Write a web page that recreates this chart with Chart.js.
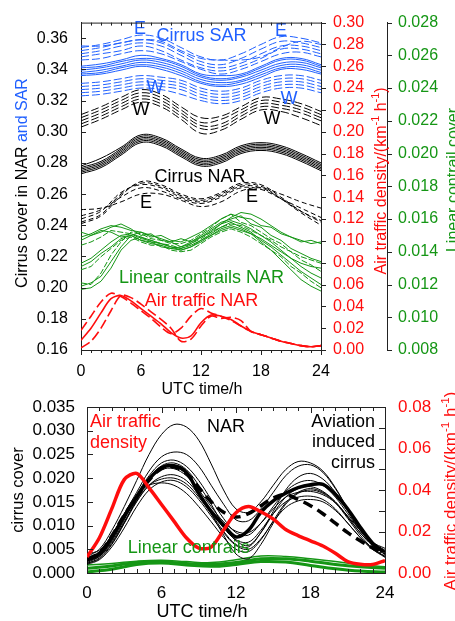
<!DOCTYPE html>
<html>
<head>
<meta charset="utf-8">
<script src="https://cdn.jsdelivr.net/npm/chart.js@4.4.1/dist/chart.umd.min.js"></script>
<style>
  html, body { margin: 0; padding: 0; background: #fff; }
  #wrap { position: relative; width: 455px; height: 621px; overflow: hidden; }
  canvas { position: absolute; left: 0; }
  #topChart { top: 0; }
  #bottomChart { top: 380px; }
</style>
</head>
<body>
<div id="wrap">
  <canvas id="topChart" width="455" height="400"></canvas>
  <canvas id="bottomChart" width="455" height="241"></canvas>
</div>
<script>
Chart.defaults.font.family = "'Liberation Sans', Arial, Helvetica, sans-serif";
Chart.defaults.color = "#000";
const FONT = "'Liberation Sans', Arial, Helvetica, sans-serif";

const BLUE = "#2060ff";
const GREEN = "#159615";
const RED = "#ff0d0d";

// HOURS (UTC)
const HOURS = [0, 1, 2, 3, 4, 5, 6, 7, 8, 9, 10, 11, 12, 13, 14, 15, 16, 17, 18, 19, 20, 21, 22, 23, 24];
const HOURS_2H = [0, 2, 4, 6, 8, 10, 12, 14, 16, 18, 20, 22, 24];

// TICK LABELS
const HOUR_TICKS = [0, 6, 12, 18, 24];
const CIRRUS_TICKS = [0.16, 0.18, 0.2, 0.22, 0.24, 0.26, 0.28, 0.3, 0.32, 0.34, 0.36];
const TRAFFIC_TICKS = [0, 0.02, 0.04, 0.06, 0.08, 0.1, 0.12, 0.14, 0.16, 0.18, 0.2, 0.22, 0.24, 0.26, 0.28, 0.3];
const CONTRAIL_TICKS = [0.008, 0.01, 0.012, 0.014, 0.016, 0.018, 0.02, 0.022, 0.024, 0.026, 0.028];
const AIC_TICKS = [0, 0.005, 0.01, 0.015, 0.02, 0.025, 0.03, 0.035];
const AIC_TRAFFIC_TICKS = [0, 0.02, 0.04, 0.06, 0.08];
const AIC_TRAFFIC_MINOR = [0, 0.01, 0.02, 0.03, 0.04, 0.05, 0.06, 0.07, 0.08];

// ---------- TOP PANEL (every 2 h) ----------
// cirrus SAR, east (dashed)
const SAR_EAST = [
  [0.354, 0.356, 0.359, 0.362, 0.360, 0.354, 0.348, 0.346, 0.350, 0.356, 0.361, 0.360, 0.357],
  [0.352, 0.354, 0.357, 0.359, 0.357, 0.351, 0.345, 0.343, 0.347, 0.353, 0.358, 0.357, 0.354],
  [0.350, 0.352, 0.355, 0.357, 0.355, 0.349, 0.343, 0.341, 0.344, 0.350, 0.355, 0.355, 0.352],
  [0.348, 0.350, 0.352, 0.355, 0.352, 0.346, 0.341, 0.339, 0.342, 0.347, 0.353, 0.353, 0.350],
  [0.346, 0.347, 0.350, 0.352, 0.350, 0.345, 0.340, 0.337, 0.340, 0.345, 0.350, 0.351, 0.348],
  [0.355, 0.355, 0.357, 0.359, 0.358, 0.352, 0.347, 0.346, 0.346, 0.348, 0.354, 0.358, 0.356],
];
// cirrus SAR (solid)
const SAR_MEAN = [
  [0.342, 0.3435, 0.346, 0.349, 0.347, 0.343, 0.337, 0.336, 0.337, 0.342, 0.347, 0.347, 0.343],
  [0.341, 0.342, 0.345, 0.347, 0.346, 0.342, 0.336, 0.334, 0.336, 0.341, 0.346, 0.346, 0.342],
  [0.3395, 0.341, 0.3435, 0.346, 0.3445, 0.3405, 0.335, 0.333, 0.335, 0.3395, 0.344, 0.3445, 0.341],
  [0.338, 0.3395, 0.342, 0.3445, 0.343, 0.339, 0.3335, 0.3315, 0.333, 0.338, 0.3425, 0.343, 0.3395],
  [0.337, 0.338, 0.341, 0.343, 0.3415, 0.3375, 0.332, 0.330, 0.332, 0.3365, 0.341, 0.3415, 0.338],
  [0.336, 0.337, 0.3395, 0.342, 0.340, 0.336, 0.331, 0.329, 0.3305, 0.335, 0.340, 0.340, 0.337],
];
// cirrus SAR, west (dashed)
const SAR_WEST = [
  [0.331, 0.332, 0.334, 0.336, 0.335, 0.333, 0.328, 0.326, 0.328, 0.333, 0.336, 0.336, 0.333],
  [0.329, 0.330, 0.332, 0.334, 0.333, 0.331, 0.326, 0.324, 0.326, 0.331, 0.334, 0.334, 0.331],
  [0.327, 0.328, 0.330, 0.332, 0.331, 0.329, 0.324, 0.322, 0.324, 0.329, 0.332, 0.332, 0.329],
  [0.325, 0.326, 0.328, 0.330, 0.329, 0.327, 0.322, 0.320, 0.322, 0.327, 0.330, 0.330, 0.327],
  [0.323, 0.324, 0.326, 0.328, 0.327, 0.324, 0.320, 0.318, 0.320, 0.325, 0.328, 0.328, 0.325],
];
// cirrus NAR, west (dashed)
const NAR_WEST = [
  [0.311, 0.316, 0.322, 0.327, 0.324, 0.316, 0.309, 0.310, 0.316, 0.322, 0.321, 0.318, 0.313],
  [0.309, 0.314, 0.320, 0.325, 0.322, 0.314, 0.306, 0.308, 0.314, 0.320, 0.319, 0.316, 0.311],
  [0.307, 0.312, 0.318, 0.323, 0.320, 0.312, 0.304, 0.305, 0.312, 0.318, 0.317, 0.314, 0.309],
  [0.305, 0.310, 0.316, 0.321, 0.318, 0.310, 0.302, 0.303, 0.310, 0.316, 0.315, 0.312, 0.307],
  [0.303, 0.308, 0.314, 0.319, 0.316, 0.308, 0.299, 0.301, 0.308, 0.314, 0.313, 0.309, 0.304],
];
// cirrus NAR (solid)
const NAR_MEAN = [
  [0.278, 0.283, 0.290, 0.298, 0.296, 0.289, 0.283, 0.285, 0.291, 0.293, 0.291, 0.286, 0.280],
  [0.277, 0.281, 0.289, 0.297, 0.295, 0.288, 0.282, 0.284, 0.290, 0.292, 0.290, 0.285, 0.279],
  [0.276, 0.280, 0.288, 0.296, 0.294, 0.287, 0.281, 0.283, 0.289, 0.291, 0.289, 0.284, 0.278],
  [0.275, 0.279, 0.287, 0.295, 0.293, 0.286, 0.280, 0.282, 0.288, 0.290, 0.288, 0.283, 0.277],
  [0.274, 0.278, 0.286, 0.294, 0.292, 0.285, 0.279, 0.281, 0.287, 0.289, 0.287, 0.282, 0.276],
  [0.273, 0.277, 0.285, 0.293, 0.291, 0.284, 0.278, 0.280, 0.286, 0.288, 0.286, 0.281, 0.275],
];
// cirrus NAR, east (dashed)
const NAR_EAST = [
  [0.241, 0.246, 0.259, 0.268, 0.266, 0.260, 0.257, 0.261, 0.267, 0.266, 0.258, 0.249, 0.242],
  [0.242, 0.247, 0.260, 0.267, 0.265, 0.259, 0.256, 0.260, 0.266, 0.265, 0.257, 0.248, 0.240],
  [0.244, 0.249, 0.261, 0.266, 0.264, 0.258, 0.255, 0.259, 0.265, 0.264, 0.257, 0.249, 0.243],
  [0.246, 0.250, 0.258, 0.264, 0.262, 0.257, 0.254, 0.258, 0.264, 0.263, 0.257, 0.251, 0.245],
  [0.250, 0.251, 0.255, 0.260, 0.260, 0.256, 0.252, 0.255, 0.262, 0.264, 0.260, 0.255, 0.251],
];
// linear contrail cover NAR (hourly)
const CONTRAILS_NAR = [
  [0.0149, 0.0151, 0.0154, 0.0156, 0.0155, 0.0153, 0.0152, 0.0149, 0.0150, 0.0147, 0.0146, 0.0149, 0.0152, 0.0156, 0.0160, 0.0163, 0.0161, 0.0160, 0.0156, 0.0155, 0.0151, 0.0149, 0.0146, 0.0147, 0.0145],
  [0.0147, 0.0150, 0.0152, 0.0155, 0.0157, 0.0154, 0.0150, 0.0151, 0.0147, 0.0146, 0.0148, 0.0146, 0.0150, 0.0154, 0.0158, 0.0160, 0.0162, 0.0157, 0.0155, 0.0150, 0.0147, 0.0142, 0.0139, 0.0136, 0.0134],
  [0.0144, 0.0146, 0.0149, 0.0153, 0.0152, 0.0151, 0.0148, 0.0147, 0.0145, 0.0144, 0.0142, 0.0145, 0.0148, 0.0152, 0.0155, 0.0157, 0.0156, 0.0153, 0.0150, 0.0147, 0.0143, 0.0140, 0.0137, 0.0135, 0.0133],
  [0.0133, 0.0136, 0.0141, 0.0146, 0.0150, 0.0151, 0.0149, 0.0146, 0.0145, 0.0143, 0.0142, 0.0144, 0.0147, 0.0151, 0.0155, 0.0158, 0.0155, 0.0152, 0.0147, 0.0143, 0.0138, 0.0133, 0.0128, 0.0124, 0.0120],
  [0.0131, 0.0134, 0.0139, 0.0143, 0.0148, 0.0150, 0.0147, 0.0146, 0.0143, 0.0142, 0.0141, 0.0143, 0.0146, 0.0150, 0.0153, 0.0155, 0.0153, 0.0151, 0.0148, 0.0144, 0.0140, 0.0136, 0.0133, 0.0131, 0.0130],
  [0.0129, 0.0131, 0.0137, 0.0142, 0.0147, 0.0149, 0.0146, 0.0144, 0.0144, 0.0141, 0.0140, 0.0141, 0.0145, 0.0149, 0.0152, 0.0154, 0.0152, 0.0149, 0.0145, 0.0141, 0.0137, 0.0131, 0.0127, 0.0122, 0.0118],
  [0.0119, 0.0121, 0.0125, 0.0134, 0.0143, 0.0150, 0.0152, 0.0150, 0.0148, 0.0146, 0.0143, 0.0146, 0.0149, 0.0153, 0.0157, 0.0159, 0.0157, 0.0154, 0.0150, 0.0146, 0.0141, 0.0136, 0.0131, 0.0127, 0.0124],
  [0.0117, 0.0118, 0.0122, 0.0130, 0.0141, 0.0147, 0.0149, 0.0147, 0.0145, 0.0143, 0.0141, 0.0143, 0.0147, 0.0150, 0.0154, 0.0156, 0.0154, 0.0151, 0.0146, 0.0141, 0.0135, 0.0129, 0.0123, 0.0119, 0.0116],
  [0.0121, 0.0120, 0.0127, 0.0138, 0.0146, 0.0152, 0.0151, 0.0148, 0.0147, 0.0145, 0.0145, 0.0147, 0.0151, 0.0155, 0.0160, 0.0163, 0.0158, 0.0156, 0.0152, 0.0148, 0.0145, 0.0140, 0.0135, 0.0132, 0.0128],
  [0.0152, 0.0150, 0.0153, 0.0152, 0.0149, 0.0150, 0.0147, 0.0145, 0.0144, 0.0142, 0.0143, 0.0145, 0.0149, 0.0152, 0.0157, 0.0161, 0.0164, 0.0163, 0.0160, 0.0156, 0.0152, 0.0149, 0.0147, 0.0145, 0.0146],
];
// air traffic NAR (hourly)
const TRAFFIC_NAR = [0.009, 0.020, 0.034, 0.047, 0.050, 0.045, 0.038, 0.031, 0.024, 0.016, 0.011, 0.013, 0.025, 0.032, 0.031, 0.028, 0.022, 0.017, 0.014, 0.011, 0.008, 0.006, 0.004, 0.003, 0.004];
const TRAFFIC_NAR_EARLY = [0.018, 0.031, 0.044, 0.052, 0.049, 0.043, 0.036, 0.029, 0.021, 0.015, 0.020, 0.031, 0.038, 0.034, 0.031, 0.027, 0.022, 0.017, 0.014, 0.011, 0.008, 0.006, 0.004, 0.003, 0.004];
const TRAFFIC_NAR_LATE = [0.002, 0.008, 0.020, 0.036, 0.050, 0.048, 0.042, 0.035, 0.028, 0.020, 0.008, 0.010, 0.022, 0.031, 0.029, 0.030, 0.027, 0.017, 0.014, 0.011, 0.008, 0.006, 0.004, 0.003, 0.004];

// ---------- BOTTOM PANEL (hourly) ----------
const AIC_MEAN = [0.0027, 0.0040, 0.0075, 0.0120, 0.0160, 0.0198, 0.0222, 0.0226, 0.0212, 0.0168, 0.0130, 0.0101, 0.0076, 0.0090, 0.0128, 0.0152, 0.0168, 0.0180, 0.0186, 0.0187, 0.0166, 0.0135, 0.0097, 0.0063, 0.0042];
const AIC_MEAN_DASHED = [0.0030, 0.0042, 0.0078, 0.0122, 0.0160, 0.0196, 0.0220, 0.0224, 0.0210, 0.0180, 0.0150, 0.0128, 0.0118, 0.0125, 0.0142, 0.0158, 0.0165, 0.0155, 0.0142, 0.0125, 0.0105, 0.0085, 0.0068, 0.0053, 0.0040];
const AIC_MEMBERS = [
  [0.0035, 0.0050, 0.0090, 0.0140, 0.0195, 0.0250, 0.0292, 0.0313, 0.0308, 0.0280, 0.0230, 0.0175, 0.0135, 0.0128, 0.0150, 0.0185, 0.0218, 0.0235, 0.0232, 0.0215, 0.0180, 0.0135, 0.0095, 0.0065, 0.0052],
  [0.0030, 0.0045, 0.0080, 0.0125, 0.0170, 0.0215, 0.0245, 0.0255, 0.0250, 0.0225, 0.0185, 0.0145, 0.0112, 0.0110, 0.0135, 0.0170, 0.0205, 0.0225, 0.0228, 0.0212, 0.0178, 0.0135, 0.0095, 0.0065, 0.0048],
  [0.0025, 0.0040, 0.0072, 0.0118, 0.0165, 0.0205, 0.0232, 0.0238, 0.0225, 0.0195, 0.0155, 0.0115, 0.0085, 0.0080, 0.0105, 0.0140, 0.0172, 0.0190, 0.0195, 0.0185, 0.0160, 0.0125, 0.0090, 0.0060, 0.0042],
  [0.0022, 0.0035, 0.0068, 0.0112, 0.0160, 0.0200, 0.0226, 0.0232, 0.0218, 0.0185, 0.0145, 0.0100, 0.0068, 0.0058, 0.0085, 0.0125, 0.0160, 0.0178, 0.0182, 0.0172, 0.0150, 0.0118, 0.0085, 0.0058, 0.0040],
  [0.0020, 0.0030, 0.0060, 0.0105, 0.0155, 0.0195, 0.0220, 0.0225, 0.0208, 0.0170, 0.0125, 0.0080, 0.0040, 0.0030, 0.0060, 0.0105, 0.0145, 0.0168, 0.0175, 0.0168, 0.0148, 0.0115, 0.0080, 0.0052, 0.0035],
  [0.0020, 0.0032, 0.0062, 0.0105, 0.0150, 0.0185, 0.0203, 0.0207, 0.0195, 0.0165, 0.0130, 0.0095, 0.0070, 0.0065, 0.0090, 0.0125, 0.0150, 0.0160, 0.0162, 0.0155, 0.0135, 0.0105, 0.0075, 0.0050, 0.0035],
  [0.0018, 0.0028, 0.0055, 0.0095, 0.0140, 0.0175, 0.0192, 0.0195, 0.0182, 0.0155, 0.0120, 0.0085, 0.0058, 0.0050, 0.0072, 0.0108, 0.0138, 0.0152, 0.0155, 0.0150, 0.0132, 0.0105, 0.0075, 0.0050, 0.0033],
  [0.0025, 0.0035, 0.0065, 0.0108, 0.0152, 0.0185, 0.0198, 0.0200, 0.0188, 0.0160, 0.0125, 0.0088, 0.0060, 0.0055, 0.0085, 0.0130, 0.0175, 0.0202, 0.0210, 0.0198, 0.0170, 0.0130, 0.0090, 0.0060, 0.0040],
  [0.0030, 0.0045, 0.0080, 0.0125, 0.0165, 0.0185, 0.0190, 0.0185, 0.0168, 0.0140, 0.0108, 0.0075, 0.0050, 0.0045, 0.0070, 0.0110, 0.0148, 0.0170, 0.0178, 0.0170, 0.0150, 0.0118, 0.0085, 0.0058, 0.0042],
  [0.0040, 0.0048, 0.0075, 0.0115, 0.0160, 0.0198, 0.0218, 0.0220, 0.0205, 0.0175, 0.0140, 0.0108, 0.0088, 0.0085, 0.0105, 0.0135, 0.0160, 0.0170, 0.0172, 0.0165, 0.0148, 0.0120, 0.0090, 0.0062, 0.0046],
];
const AIC_TRAFFIC = [0.0077, 0.017, 0.031, 0.045, 0.048, 0.041, 0.033, 0.025, 0.017, 0.012, 0.0125, 0.0207, 0.029, 0.032, 0.0295, 0.026, 0.021, 0.018, 0.0155, 0.013, 0.0095, 0.0055, 0.0042, 0.0041, 0.006];
// linear contrails (every 2 h)
const AIC_CONTRAILS = [
  [0.0017, 0.0020, 0.0025, 0.0027, 0.0024, 0.0022, 0.0028, 0.0036, 0.0035, 0.0030, 0.0024, 0.0018, 0.0013],
  [0.0010, 0.0015, 0.0022, 0.0023, 0.0020, 0.0018, 0.0022, 0.0030, 0.0030, 0.0025, 0.0018, 0.0013, 0.0010],
  [0.0002, 0.0008, 0.0018, 0.0021, 0.0017, 0.0014, 0.0018, 0.0024, 0.0023, 0.0016, 0.0009, 0.0004, 0.0002],
];

// TEXT LABELS (placed in data coordinates)
const TOP_NOTES = [
  { text: "E", h: 5.9, v: 0.3656, color: BLUE },
  { text: "Cirrus SAR", h: 12.05, v: 0.3612, color: BLUE },
  { text: "E", h: 20.0, v: 0.3644, color: BLUE },
  { text: "W", h: 7.4, v: 0.3282, color: BLUE },
  { text: "W", h: 20.8, v: 0.3207, color: BLUE },
  { text: "W", h: 6.0, v: 0.3139, color: "#000" },
  { text: "W", h: 19.1, v: 0.3083, color: "#000" },
  { text: "Cirrus NAR", h: 11.9, v: 0.2709, color: "#000" },
  { text: "E", h: 6.5, v: 0.2541, color: "#000" },
  { text: "E", h: 17.1, v: 0.2578, color: "#000" },
  { text: "Linear contrails NAR", h: 12.05, v: 0.2061, color: GREEN },
  { text: "Air traffic NAR", h: 12.05, v: 0.1912, color: RED },
];
const BOTTOM_NOTES = [
  { text: "Air traffic", h: 0.24, v: 0.0318, color: RED, align: "left" },
  { text: "density", h: 0.24, v: 0.0274, color: RED, align: "left" },
  { text: "NAR", h: 11.2, v: 0.0308, color: "#000", align: "center" },
  { text: "Aviation", h: 23.2, v: 0.0318, color: "#000", align: "right" },
  { text: "induced", h: 23.2, v: 0.0276, color: "#000", align: "right" },
  { text: "cirrus", h: 23.2, v: 0.0232, color: "#000", align: "right" },
  { text: "Linear contrails", h: 8.2, v: 0.0053, color: GREEN, align: "center" },
];

// BUILD ONE LINE DATASET
function line(hours, vals, color, opts) {
  return Object.assign({
    data: hours.map((h, i) => ({ x: h, y: vals[i] })),
    borderColor: color,
    borderWidth: 1,
    pointRadius: 0,
    fill: false,
    tension: 0.4,
  }, opts);
}

// ROTATED TITLE, parts = [{t, color, sup}]
function rotatedText(ctx, baseX, centerY, parts, size) {
  ctx.save();
  ctx.translate(baseX, centerY);
  ctx.rotate(-Math.PI / 2);
  ctx.textAlign = "left";
  ctx.textBaseline = "alphabetic";
  let total = 0;
  parts.forEach((p) => {
    ctx.font = (p.sup ? size * 0.68 : size) + "px " + FONT;
    total += ctx.measureText(p.t).width;
  });
  let x = -total / 2;
  parts.forEach((p) => {
    ctx.font = (p.sup ? size * 0.68 : size) + "px " + FONT;
    ctx.fillStyle = p.color;
    ctx.fillText(p.t, x, p.sup ? -size * 0.42 : 0);
    x += ctx.measureText(p.t).width;
  });
  ctx.restore();
}

function tick(ctx, x1, y1, x2, y2) {
  ctx.beginPath();
  ctx.moveTo(x1, y1);
  ctx.lineTo(x2, y2);
  ctx.stroke();
}

function drawNotes(chart, notes, size, xId, yId) {
  const { ctx } = chart;
  ctx.save();
  ctx.font = size + "px " + FONT;
  ctx.textBaseline = "middle";
  notes.forEach((n) => {
    ctx.fillStyle = n.color;
    ctx.textAlign = n.align || "center";
    ctx.fillText(n.text, chart.scales[xId].getPixelForValue(n.h), chart.scales[yId].getPixelForValue(n.v));
  });
  ctx.restore();
}

const trafficUnit = (color) => [
  { t: "Air traffic density/(km", color },
  { t: "-1", color, sup: true },
  { t: " h", color },
  { t: "-1", color, sup: true },
  { t: ")", color },
];

// TOP PANEL DECORATION
const topDecor = {
  id: "topDecor",
  afterDatasetsDraw(chart) {
    drawNotes(chart, TOP_NOTES, 18, "x", "y");
  },
  afterDraw(chart) {
    const { ctx, chartArea: a, scales } = chart;
    ctx.save();
    ctx.strokeStyle = "#222";
    ctx.lineWidth = 1;
    tick(ctx, a.left, a.top + 0.5, a.right, a.top + 0.5);
    HOURS.forEach((h) => {
      const x = Math.round(scales.x.getPixelForValue(h)) + 0.5;
      const len = h % 6 === 0 ? 5 : 3;
      tick(ctx, x, a.top, x, a.top + len);
      tick(ctx, x, a.bottom, x, a.bottom + len);
    });
    CIRRUS_TICKS.forEach((v) => {
      const y = Math.round(scales.y.getPixelForValue(v)) + 0.5;
      tick(ctx, a.left, y, a.left + 5, y);
    });
    TRAFFIC_TICKS.forEach((v) => {
      const y = Math.round(scales.yr.getPixelForValue(v)) + 0.5;
      tick(ctx, a.right, y, a.right + 5, y);
    });
    CONTRAIL_TICKS.forEach((v) => {
      const y = Math.round(scales.yg.getPixelForValue(v)) + 0.5;
      tick(ctx, scales.yg.left, y, scales.yg.left + 5, y);
    });
    ctx.restore();

    rotatedText(ctx, 27, 183, [
      { t: "Cirrus cover in NAR ", color: "#000" },
      { t: "and SAR", color: BLUE },
    ], 16);
    rotatedText(ctx, 386, 181, trafficUnit(RED), 16);
    rotatedText(ctx, 458, 180, [{ t: "Linear contrail cover", color: GREEN }], 16);
    ctx.save();
    ctx.font = "16px " + FONT;
    ctx.fillStyle = "#000";
    ctx.textAlign = "center";
    ctx.textBaseline = "middle";
    ctx.fillText("UTC time/h", 202, 390);
    ctx.restore();
  },
};

// BOTTOM PANEL DECORATION
const bottomDecor = {
  id: "bottomDecor",
  afterDatasetsDraw(chart) {
    drawNotes(chart, BOTTOM_NOTES, 18, "x", "y");
  },
  afterDraw(chart) {
    const { ctx, chartArea: a, scales } = chart;
    ctx.save();
    ctx.strokeStyle = "#222";
    ctx.lineWidth = 1;
    tick(ctx, a.left, a.top + 0.5, a.right, a.top + 0.5);
    HOURS.forEach((h) => {
      const x = Math.round(scales.x.getPixelForValue(h)) + 0.5;
      const len = h % 6 === 0 ? 6 : 4;
      tick(ctx, x, a.top, x, a.top + len);
      tick(ctx, x, a.bottom, x, a.bottom - len);
    });
    AIC_TICKS.forEach((v) => {
      const y = Math.round(scales.y.getPixelForValue(v)) + 0.5;
      tick(ctx, a.left, y, a.left + 6, y);
    });
    AIC_TRAFFIC_MINOR.forEach((v) => {
      const y = Math.round(scales.yr.getPixelForValue(v)) + 0.5;
      tick(ctx, a.right, y, a.right - 6, y);
    });
    ctx.restore();

    rotatedText(ctx, 23, 110, [{ t: "cirrus cover", color: "#000" }], 16.5);
    rotatedText(ctx, 456, 111, trafficUnit(RED), 17);
    ctx.save();
    ctx.font = "18px " + FONT;
    ctx.fillStyle = "#000";
    ctx.textAlign = "center";
    ctx.textBaseline = "middle";
    ctx.fillText("UTC time/h", 202, 232);
    ctx.restore();
  },
};

const fixTicks = (arr) => (scale) => {
  scale.ticks = arr.map((v) => ({ value: v }));
};

// TOP PANEL DATASETS (first = drawn on top)
const topSets = [];
topSets.push(line(HOURS, TRAFFIC_NAR, RED, { yAxisID: "yr", borderWidth: 1.6, tension: 0.3 }));
topSets.push(line(HOURS, TRAFFIC_NAR_EARLY, RED, { yAxisID: "yr", borderWidth: 1.6, tension: 0.3, borderDash: [10, 4] }));
topSets.push(line(HOURS, TRAFFIC_NAR_LATE, RED, { yAxisID: "yr", borderWidth: 1.6, tension: 0.3, borderDash: [10, 4] }));
CONTRAILS_NAR.forEach((vals, i) => {
  topSets.push(line(HOURS, vals, GREEN, { yAxisID: "yg", tension: 0, borderDash: i % 3 === 2 ? [6, 2] : [] }));
});
NAR_EAST.forEach((vals) => topSets.push(line(HOURS_2H, vals, "#000", { yAxisID: "y", borderDash: [5, 3] })));
NAR_MEAN.forEach((vals) => topSets.push(line(HOURS_2H, vals, "#000", { yAxisID: "y" })));
NAR_WEST.forEach((vals) => topSets.push(line(HOURS_2H, vals, "#000", { yAxisID: "y", borderDash: [8, 3] })));
SAR_WEST.forEach((vals) => topSets.push(line(HOURS_2H, vals, BLUE, { yAxisID: "y", borderDash: [8, 3] })));
SAR_MEAN.forEach((vals) => topSets.push(line(HOURS_2H, vals, BLUE, { yAxisID: "y" })));
SAR_EAST.forEach((vals) => topSets.push(line(HOURS_2H, vals, BLUE, { yAxisID: "y", borderDash: [8, 3] })));

const noGrid = { display: false, drawTicks: false };
const axisBorder = { color: "#222", width: 1 };

new Chart(document.getElementById("topChart"), {
  type: "line",
  data: { datasets: topSets },
  options: {
    responsive: false,
    animation: false,
    events: [],
    layout: { padding: { top: 13, left: 0, right: 0, bottom: 0 } },
    plugins: { legend: { display: false }, tooltip: { enabled: false } },
    scales: {
      x: {
        type: "linear", min: 0, max: 24,
        grid: noGrid, border: axisBorder,
        afterBuildTicks: fixTicks(HOUR_TICKS),
        ticks: { font: { size: 16 }, padding: 12, color: "#000", maxRotation: 0, autoSkip: false },
        afterFit: (s) => { s.height = 50; },
      },
      y: {
        type: "linear", position: "left", min: 0.16, max: 0.37,
        grid: noGrid, border: axisBorder,
        afterBuildTicks: fixTicks(CIRRUS_TICKS),
        ticks: { font: { size: 16 }, padding: 13, color: "#000", autoSkip: false, callback: (v) => v.toFixed(2) },
        afterFit: (s) => { s.width = 81; },
      },
      yr: {
        type: "linear", position: "right", weight: 0, min: 0, max: 0.3,
        grid: noGrid, border: axisBorder,
        afterBuildTicks: fixTicks(TRAFFIC_TICKS),
        ticks: { font: { size: 16 }, padding: 12, color: RED, autoSkip: false, callback: (v) => v.toFixed(2) },
        afterFit: (s) => { s.width = 66; },
      },
      yg: {
        type: "linear", position: "right", weight: 1, min: 0.008, max: 0.028,
        grid: noGrid, border: axisBorder,
        afterBuildTicks: fixTicks(CONTRAIL_TICKS),
        ticks: { font: { size: 16 }, padding: 11, color: GREEN, autoSkip: false, callback: (v) => v.toFixed(3) },
        afterFit: (s) => { s.width = 68; },
      },
    },
  },
  plugins: [topDecor],
});

// BOTTOM PANEL DATASETS
const bottomSets = [];
bottomSets.push(line(HOURS, AIC_TRAFFIC, RED, { yAxisID: "yr", borderWidth: 3.5, tension: 0.3 }));
bottomSets.push(line(HOURS, AIC_MEAN, "#000", { yAxisID: "y", borderWidth: 3.5, tension: 0.35 }));
bottomSets.push(line(HOURS, AIC_MEAN_DASHED, "#000", { yAxisID: "y", borderWidth: 3.5, tension: 0.35, borderDash: [10, 6] }));
AIC_MEMBERS.forEach((vals) => bottomSets.push(line(HOURS, vals, "#000", { yAxisID: "y", borderWidth: 1, tension: 0.35 })));
AIC_CONTRAILS.forEach((vals, i) => {
  bottomSets.push(line(HOURS_2H, vals, GREEN, { yAxisID: "y", borderWidth: i === 0 ? 1.5 : 3 }));
});

new Chart(document.getElementById("bottomChart"), {
  type: "line",
  data: { datasets: bottomSets },
  options: {
    responsive: false,
    animation: false,
    events: [],
    layout: { padding: { top: 27, left: 0, right: 0, bottom: 0 } },
    plugins: { legend: { display: false }, tooltip: { enabled: false } },
    scales: {
      x: {
        type: "linear", min: 0, max: 24,
        grid: noGrid, border: axisBorder,
        afterBuildTicks: fixTicks(HOUR_TICKS),
        ticks: { font: { size: 17 }, padding: 10, color: "#000", maxRotation: 0, autoSkip: false },
        afterFit: (s) => { s.height = 48; },
      },
      y: {
        type: "linear", position: "left", min: 0, max: 0.035,
        grid: noGrid, border: axisBorder,
        afterBuildTicks: fixTicks(AIC_TICKS),
        ticks: { font: { size: 17 }, padding: 12, color: "#000", autoSkip: false, callback: (v) => v.toFixed(3) },
        afterFit: (s) => { s.width = 87; },
      },
      yr: {
        type: "linear", position: "right", min: 0, max: 0.08,
        grid: noGrid, border: axisBorder,
        afterBuildTicks: fixTicks(AIC_TRAFFIC_TICKS),
        ticks: { font: { size: 17 }, padding: 13, color: RED, autoSkip: false, callback: (v) => v.toFixed(2) },
        afterFit: (s) => { s.width = 70; },
      },
    },
  },
  plugins: [bottomDecor],
});
</script>
</body>
</html>
